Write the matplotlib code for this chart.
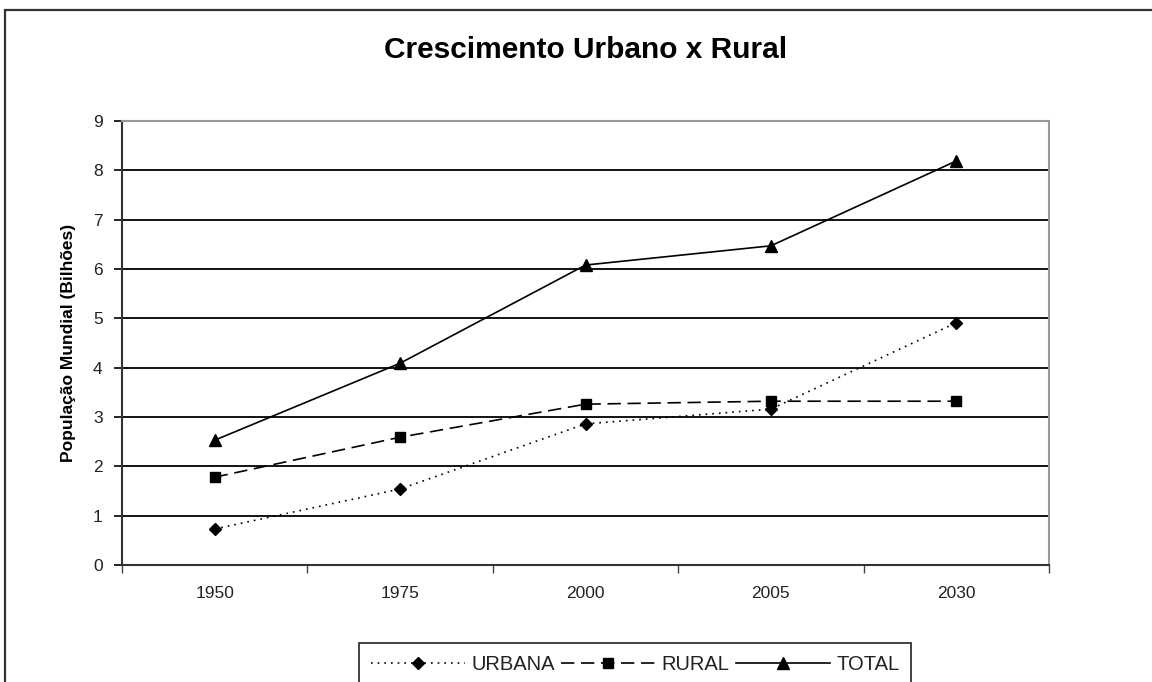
import matplotlib.pyplot as plt
from matplotlib.patches import Rectangle

plt.rcParams['font.family'] = ['Liberation Sans', 'DejaVu Sans']

anos = ['1950', '1975', '2000', '2005', '2030']
urbana = [0.73, 1.54, 2.86, 3.16, 4.91]
rural = [1.78, 2.59, 3.26, 3.32, 3.32]
total = [2.53, 4.09, 6.08, 6.47, 8.19]
yticks = list(range(0, 10))

fig = plt.figure(figsize=(11.52, 6.82), dpi=100)
# moldura externa do gráfico (cortada à direita e embaixo)
fig.patches.append(Rectangle((5 / 1152, -0.2), 1.2, 1.2 - 10 / 682,
                             transform=fig.transFigure, fill=False,
                             edgecolor='#333333', linewidth=1.6))

ax = fig.add_axes([122 / 1152, 1 - 565 / 682, 927 / 1152, 444 / 682])
x = list(range(len(anos)))

ax.plot(x, urbana, color='black', linestyle=(0, (1, 3)), linewidth=1.2,
        marker='D', markersize=6, label='URBANA')
ax.plot(x, rural, color='black', linestyle=(0, (8, 4)), linewidth=1.2,
        marker='s', markersize=7, label='RURAL')
ax.plot(x, total, color='black', linestyle='-', linewidth=1.2,
        marker='^', markersize=8, label='TOTAL')

ax.set_xlim(-0.5, 4.5)
ax.set_ylim(0, 9)
ax.set_yticks(yticks)
ax.set_yticklabels([str(v) for v in yticks], fontsize=12.5, color='#222222')
ax.set_xticks(x)
ax.set_xticklabels(anos, fontsize=12.5, color='#222222')
ax.set_xticks([i - 0.5 for i in range(len(anos) + 1)], minor=True)
ax.tick_params(axis='x', which='major', length=0, pad=15)
ax.tick_params(axis='x', which='minor', length=6, direction='out', width=1, color='#444444')
ax.tick_params(axis='y', length=6, direction='out', width=1.2, pad=8)

ax.grid(axis='y', color='black', linewidth=1.3)
ax.set_axisbelow(True)
for lado in ['top', 'right']:
    ax.spines[lado].set_color('#999999')
    ax.spines[lado].set_linewidth(1.5)
for lado in ['left', 'bottom']:
    ax.spines[lado].set_color('#333333')
    ax.spines[lado].set_linewidth(1.5)

ax.set_ylabel('População Mundial (Bilhões)', fontsize=12.5, fontweight='bold', labelpad=12)

fig.text(586 / 1152, 1 - 50 / 682, 'Crescimento Urbano x Rural', ha='center', va='center',
         fontsize=21.5, fontweight='bold')

# legenda embaixo, cortada pela borda inferior como no original
leg = fig.legend(loc='upper center', bbox_to_anchor=(635 / 1152, 1 - 643 / 682), ncol=3,
                 frameon=True, fancybox=False, edgecolor='black', fontsize=14.5,
                 handlelength=4.7, handletextpad=0.3, columnspacing=0.3,
                 borderpad=0.6, borderaxespad=0)
leg.get_frame().set_linewidth(1.3)
for t in leg.get_texts():
    t.set_color('#222222')

fig.savefig('out.png', dpi=100)
